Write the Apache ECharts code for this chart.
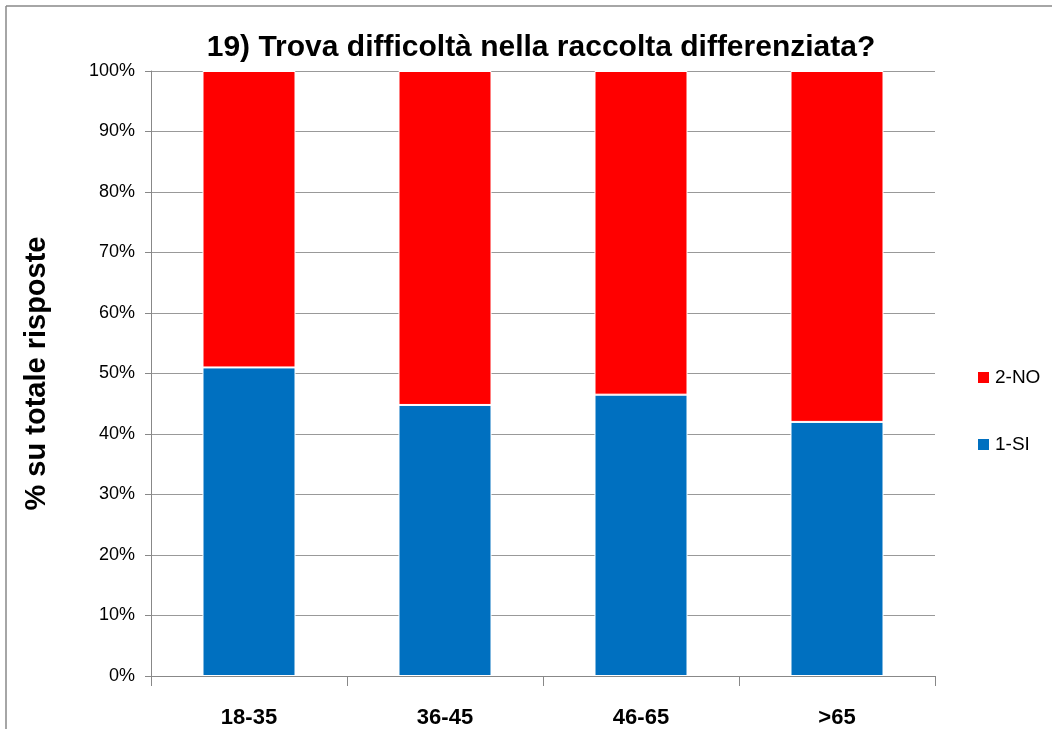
<!DOCTYPE html>
<html>
<head>
<meta charset="utf-8">
<script src="https://cdn.jsdelivr.net/npm/echarts@6/dist/echarts.min.js"></script>
<style>html,body{margin:0;padding:0;background:#fff}#c{width:1052px;height:729px}</style>
</head>
<body>
<div id="c"></div>
<script>
var categories = ['18-35', '36-45', '46-65', '>65'];
var siValues = [51.0, 44.8, 46.5, 42.0];
var noValues = [49.0, 55.2, 53.5, 58.0];
var seriesNames = ['1-SI', '2-NO'];
var titleText = '19) Trova difficoltà nella raccolta differenziata?';
var yAxisName = '% su totale risposte';

var chart = echarts.init(document.getElementById('c'));
var font = "'Liberation Sans', sans-serif";
chart.setOption({
  animation: false,
  title: {
    text: titleText, left: 536, top: 28, textAlign: 'center',
    textStyle: {fontFamily: font, fontWeight: 'bold', fontSize: 30, color: '#000'}
  },
  graphic: [
    {type: 'line', shape: {x1: 6, y1: 6, x2: 1052, y2: 6}, style: {stroke: '#888', lineWidth: 1.5}},
    {type: 'line', shape: {x1: 6, y1: 6, x2: 6, y2: 729}, style: {stroke: '#888', lineWidth: 1.5}}
  ],
  legend: {
    orient: 'vertical', left: 971, top: 363, itemWidth: 13, itemHeight: 13, itemGap: 48,
    icon: 'rect',
    data: ['2-NO', '1-SI'],
    textStyle: {fontFamily: font, fontSize: 19, color: '#000'}
  },
  grid: {left: 151, right: 117, top: 71, bottom: 53},
  xAxis: {
    type: 'category', data: categories,
    axisLine: {lineStyle: {color: '#888', width: 1}},
    axisTick: {show: true, length: 10, lineStyle: {color: '#888'}},
    axisLabel: {margin: 31, fontFamily: font, fontWeight: 'bold', fontSize: 22, color: '#000'}
  },
  yAxis: {
    type: 'value', min: 0, max: 100, interval: 10,
    name: yAxisName, nameLocation: 'middle', nameGap: 100, nameRotate: 90,
    nameTextStyle: {fontFamily: font, fontWeight: 'bold', fontSize: 29, color: '#000'},
    axisLine: {show: true, lineStyle: {color: '#888'}},
    axisTick: {show: true, length: 6, lineStyle: {color: '#888'}},
    splitLine: {lineStyle: {color: '#999'}},
    axisLabel: {formatter: '{value}%', margin: 16, fontFamily: font, fontSize: 18, color: '#000'}
  },
  series: [
    {name: seriesNames[0], type: 'bar', stack: 'a', data: siValues, barWidth: 93,
     itemStyle: {color: '#0070C0', borderColor: '#fff', borderWidth: 1}},
    {name: seriesNames[1], type: 'bar', stack: 'a', data: noValues, barWidth: 93,
     itemStyle: {color: '#FF0000', borderColor: '#fff', borderWidth: 1}}
  ]
});
</script>
</body>
</html>
